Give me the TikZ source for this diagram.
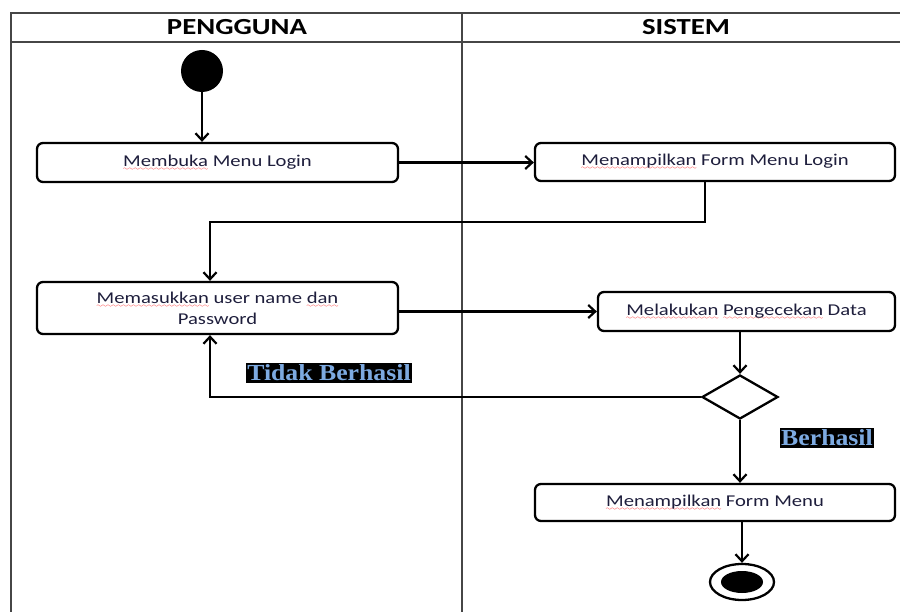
\documentclass[tikz,border=0pt]{standalone}
\usepackage{fontspec}
\setmainfont{Carlito}[FakeStretch=1.25]
\newfontfamily\labfont{Liberation Serif}[FakeStretch=1.12]
\usetikzlibrary{arrows.meta,shapes.geometric}
\font\wavefont=lasy6
\newsavebox\wavebox
\newcommand\redwave[1]{\sbox\wavebox{#1}\rlap{\textcolor{red}{\lower4pt\hbox to\wd\wavebox{\xleaders\hbox{\wavefont\char58}\hfil}}}\usebox\wavebox}
\definecolor{txtcol}{RGB}{30,30,60}
\definecolor{labcol}{RGB}{125,170,225}
\definecolor{framecol}{RGB}{70,70,70}
\tikzset{
  actbox/.style={draw, rectangle, rounded corners=6pt, line width=2.3pt, align=center,
    text=txtcol, font=\fontsize{16.5}{21}\selectfont, inner sep=0pt},
  arr/.style={line width=2.3pt, -{Straight Barb[length=7pt,width=13pt,line width=2.2pt]}},
  frame/.style={line width=1.4pt, draw=framecol},
  lab/.style={fill=black, text=labcol, font=\labfont\bfseries\fontsize{23}{23}\selectfont,
    inner xsep=1pt, inner ysep=2pt},
  hdr/.style={font=\bfseries\fontsize{23}{23}\selectfont, text=black}
}
\begin{document}
\begin{tikzpicture}[x=1pt,y=-1pt]
\useasboundingbox (0,0) rectangle (900,612);
% frame
\draw[frame] (11,612) -- (11,13) -- (900,13);
\draw[frame] (11,42) -- (900,42);
\draw[frame] (462,13) -- (462,612);
\node[hdr] (h1) at (237,27) {PENGGUNA};
\node[hdr] (h2) at (686,27) {SISTEM};
% nodes
\node[circle, fill=black, minimum size=42pt, inner sep=0pt] (start) at (202,71) {};
\node[actbox, minimum width=361pt, minimum height=39pt] (b1) at (217.5,162.5) {\redwave{Membuka} Menu Login};
\node[actbox, minimum width=360pt, minimum height=38pt] (b2) at (715,162) {\redwave{Menampilkan} Form Menu Login};
\node[actbox, minimum width=361pt, minimum height=52pt] (b3) at (217.5,308) {\redwave{Memasukkan} user name \redwave{dan}\\Password};
\node[actbox, minimum width=297pt, minimum height=39pt] (b4) at (746.5,311.5) {\redwave{Melakukan} \redwave{Pengecekan} Data};
\node[diamond, draw, line width=2.3pt, minimum width=76pt, minimum height=44pt, inner sep=0pt, aspect=1.73] (dec) at (740,397) {};
\node[actbox, minimum width=360pt, minimum height=37pt] (b5) at (715,502.5) {\redwave{Menampilkan} Form Menu};
\node[ellipse, draw, line width=2.3pt, minimum width=64pt, minimum height=36pt, inner sep=0pt] (end) at (742,582) {};
\node[ellipse, fill=black, minimum width=42pt, minimum height=22pt, inner sep=0pt] (endin) at (742,582) {};
% turn points
\coordinate (t1) at (705,222);
\coordinate (t2) at (210,222);
\coordinate (t3) at (210,397);
% connectors
\draw[arr] (start) -- (start |- b1.north);
\draw[arr] (b1.east) -- (b1.east -| b2.west);
\draw[arr] (t1 |- b2.south) -- (t1) -- (t2) -- (t2 |- b3.north);
\draw[arr] (b3.east |- b4.west) -- (b4.west);
\draw[arr] (dec.north |- b4.south) -- (dec.north);
\draw[arr] (dec.west) -- (t3) -- (t3 |- b3.south);
\draw[arr] (dec.south) -- (dec.south |- b5.north);
\draw[arr] (end.north |- b5.south) -- (end.north);
% labels
\node[lab] (l1) at (329,373) {Tidak Berhasil};
\node[lab] (l2) at (827,438) {Berhasil};
\end{tikzpicture}
\end{document}
